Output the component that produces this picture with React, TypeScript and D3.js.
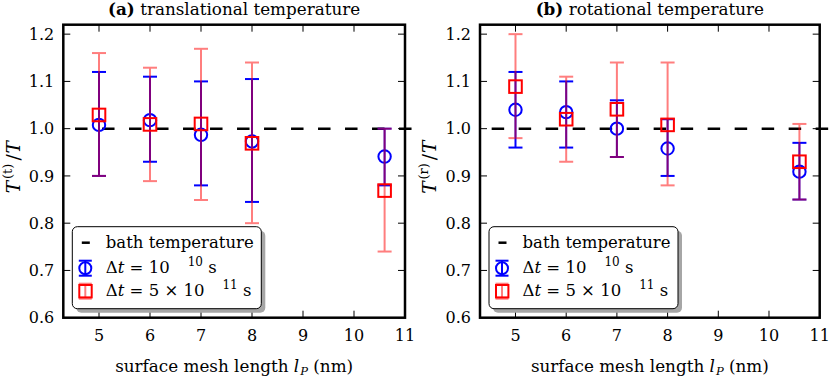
import React from 'react';
import * as d3 from 'd3';

// mesh lengths (nm) shared by both panels
const meshLengths = [5, 6, 7, 8, 10.6];

// (a) translational temperature, dt = 1e-10 s
const transBlue = [1.008, 1.018, 0.987, 0.973, 0.941];
const transBlueLo = [0.9, 0.93, 0.88, 0.845, 0.88];
const transBlueHi = [1.12, 1.11, 1.1, 1.105, 1.0];
// (a) translational temperature, dt = 5e-11 s
const transRed = [1.029, 1.009, 1.01, 0.969, 0.869];
const transRedLo = [0.9, 0.889, 0.849, 0.8, 0.74];
const transRedHi = [1.16, 1.129, 1.169, 1.14, 1.0];

// (b) rotational temperature, dt = 1e-10 s
const rotBlue = [1.04, 1.035, 1.0, 0.958, 0.909];
const rotBlueLo = [0.96, 0.96, 0.94, 0.9, 0.85];
const rotBlueHi = [1.12, 1.1, 1.06, 1.02, 0.97];
// (b) rotational temperature, dt = 5e-11 s
const rotRed = [1.089, 1.02, 1.041, 1.008, 0.93];
const rotRedLo = [0.98, 0.93, 0.94, 0.88, 0.85];
const rotRedHi = [1.2, 1.11, 1.14, 1.14, 1.01];

const bathValue = 1.0;
const bathRange = [4.53, 11.2];

const xTicks = [5, 6, 7, 8, 9, 10, 11];
const yTicks = [0.6, 0.7, 0.8, 0.9, 1.0, 1.1, 1.2];
const xDomain = [4.3, 11];
const yDomain = [0.6, 1.22];

const FONT = 'DejaVu Serif';
const BLUE = '#0000ff';
const RED = '#ff0000';

type Series = { y: number[]; lo: number[]; hi: number[] };

function ErrorSeries({ s, x, y, color, alpha, marker }: any) {
  const cap = 7;
  return (
    <g>
      <g stroke={color} strokeWidth={2} opacity={alpha}>
        {meshLengths.map((m, i) => (
          <g key={i}>
            <line x1={x(m)} x2={x(m)} y1={y(s.lo[i])} y2={y(s.hi[i])} />
            <line x1={x(m) - cap} x2={x(m) + cap} y1={y(s.lo[i])} y2={y(s.lo[i])} />
            <line x1={x(m) - cap} x2={x(m) + cap} y1={y(s.hi[i])} y2={y(s.hi[i])} />
          </g>
        ))}
      </g>
      <g stroke={color} strokeWidth={2} fill="none">
        {meshLengths.map((m, i) =>
          marker === 'circle' ? (
            <circle key={i} cx={x(m)} cy={y(s.y[i])} r={6.2} />
          ) : (
            <rect key={i} x={x(m) - 6.3} y={y(s.y[i]) - 6.3} width={12.6} height={12.6} />
          )
        )}
      </g>
    </g>
  );
}

function Panel({ left, right, tag, title, sup, blue, red }: {
  left: number; right: number; tag: string; title: string; sup: string; blue: Series; red: Series;
}) {
  const top = 24.7;
  const bottom = 317.7;
  const x = d3.scaleLinear().domain(xDomain).range([left, right]);
  const y = d3.scaleLinear().domain(yDomain).range([bottom, top]);
  const cx = (left + right) / 2;
  const lx = left + 9;
  const ly = bottom - 9 - 82;
  const tick = 7;
  return (
    <g fontFamily={FONT} fill="#000">
      <text x={cx} y={15} textAnchor="middle" fontSize={16.8}>
        <tspan fontWeight="bold">({tag})</tspan> {title}
      </text>

      <line x1={x(bathRange[0])} x2={x(bathRange[1])} y1={y(bathValue)} y2={y(bathValue)}
        stroke="#000" strokeWidth={2.5} strokeDasharray="12.5,14.5" />

      <ErrorSeries s={blue} x={x} y={y} color={BLUE} alpha={1} marker="circle" />
      <ErrorSeries s={red} x={x} y={y} color={RED} alpha={0.5} marker="square" />

      {/* ticks, inward on all sides */}
      <g stroke="#000" strokeWidth={1}>
        {xTicks.map((t) => (
          <g key={t}>
            <line x1={x(t)} x2={x(t)} y1={bottom} y2={bottom - tick} />
            <line x1={x(t)} x2={x(t)} y1={top} y2={top + tick} />
          </g>
        ))}
        {yTicks.map((t) => (
          <g key={t}>
            <line x1={left} x2={left + tick} y1={y(t)} y2={y(t)} />
            <line x1={right} x2={right - tick} y1={y(t)} y2={y(t)} />
          </g>
        ))}
      </g>
      <rect x={left} y={top} width={right - left} height={bottom - top} fill="none" stroke="#000" strokeWidth={2.5} />

      <g fontSize={16}>
        {xTicks.map((t) => (
          <text key={t} x={x(t)} y={341} textAnchor="middle">{t}</text>
        ))}
        {yTicks.map((t) => (
          <text key={t} x={left - 9} y={y(t)} dy="0.36em" textAnchor="end">{d3.format('.1f')(t)}</text>
        ))}
      </g>

      <text x={cx} y={372} textAnchor="middle" fontSize={16.8}>
        surface mesh length <tspan fontStyle="italic">l</tspan>
        <tspan fontStyle="italic" fontSize={11.5} dy={3} dx={1}>P</tspan>
        <tspan dy={-3}> (nm)</tspan>
      </text>

      <text transform={`translate(${left - 50},${(top + bottom) / 2 - 4}) rotate(-90)`} textAnchor="middle"
        dy="0.35em" fontSize={18.5}>
        <tspan fontStyle="italic">T</tspan>
        <tspan fontSize={13} dy={-8} dx={2}>({sup})</tspan>
        <tspan dy={8} dx={3}>/</tspan>
        <tspan fontStyle="italic" dx={1}>T</tspan>
      </text>

      {/* legend */}
      <g>
        <rect x={lx + 4} y={ly + 4} width={189} height={82} rx={5} fill="#a6a6a6" />
        <rect x={lx} y={ly} width={189} height={82} rx={5} fill="#fff" stroke="#000" strokeWidth={1} />
        <line x1={lx + 9.5} x2={lx + 17.5} y1={ly + 16} y2={ly + 16} stroke="#000" strokeWidth={2.5} />

        <g stroke={BLUE} strokeWidth={2} fill="none">
          <line x1={lx + 13} x2={lx + 13} y1={ly + 34} y2={ly + 49} />
          <line x1={lx + 6.5} x2={lx + 19.5} y1={ly + 34} y2={ly + 34} />
          <line x1={lx + 6.5} x2={lx + 19.5} y1={ly + 49} y2={ly + 49} />
          <circle cx={lx + 13} cy={ly + 41.5} r={6} />
        </g>
        <g stroke={RED} strokeWidth={2} fill="none">
          <g opacity={0.5}>
            <line x1={lx + 13} x2={lx + 13} y1={ly + 57} y2={ly + 72} />
            <line x1={lx + 6.5} x2={lx + 19.5} y1={ly + 57} y2={ly + 57} />
            <line x1={lx + 6.5} x2={lx + 19.5} y1={ly + 72} y2={ly + 72} />
          </g>
          <rect x={lx + 7} y={ly + 58.3} width={12.4} height={12.4} />
        </g>

        <g fontSize={16.5}>
          <text x={lx + 33.5} y={ly + 21.6}>bath temperature</text>
          <text x={lx + 33.5} y={ly + 46.6}>
            Δ<tspan fontStyle="italic">t</tspan> = 10
            <tspan fontSize={12} dy={-7} dx={18}>10</tspan>
            <tspan dy={7}> s</tspan>
          </text>
          <text x={lx + 33.5} y={ly + 69.3}>
            Δ<tspan fontStyle="italic">t</tspan> = 5 × 10
            <tspan fontSize={12} dy={-7} dx={18}>11</tspan>
            <tspan dy={7}> s</tspan>
          </text>
        </g>
      </g>
    </g>
  );
}

export default function App() {
  return (
    <svg width={830} height={378} style={{ position: 'absolute', left: 0, top: 0, background: '#fff' }}>
      <Panel left={63.3} right={405} tag="a" title="translational temperature" sup="t"
        blue={{ y: transBlue, lo: transBlueLo, hi: transBlueHi }}
        red={{ y: transRed, lo: transRedLo, hi: transRedHi }} />
      <Panel left={480} right={819.7} tag="b" title="rotational temperature" sup="r"
        blue={{ y: rotBlue, lo: rotBlueLo, hi: rotBlueHi }}
        red={{ y: rotRed, lo: rotRedLo, hi: rotRedHi }} />
    </svg>
  );
}
